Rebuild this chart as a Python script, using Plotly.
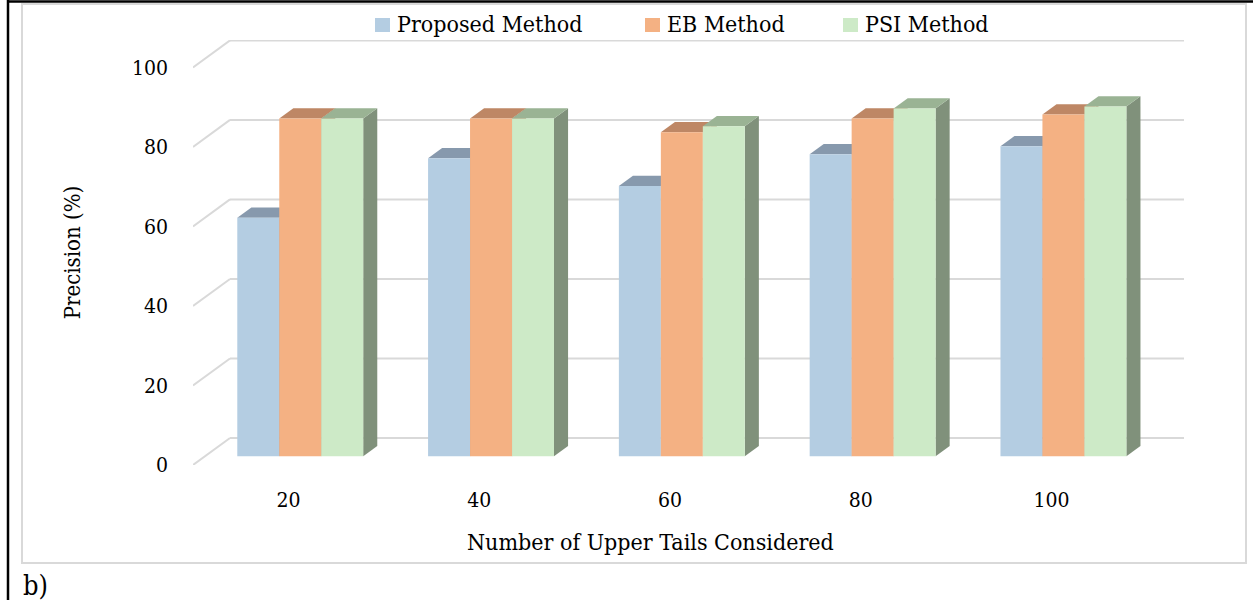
import plotly.graph_objects as go

# ---- data -------------------------------------------------------------
categories = ["20", "40", "60", "80", "100"]
series_names = ["Proposed Method", "EB Method", "PSI Method"]
proposed = [60, 75, 68, 76, 78]
eb = [85, 85, 81.5, 85, 86]
psi = [85, 85, 83, 87.5, 88]
y_ticks = [0, 20, 40, 60, 80, 100]

series_values = [proposed, eb, psi]
front_colors = ["#B4CDE2", "#F4B183", "#CDEAC7"]
top_colors = ["#8799AD", "#BE8765", "#9AB394"]
side_colors = ["#7D8E9F", "#B07A5A", "#80917B"]

FONT = "DejaVu Serif Condensed, DejaVu Serif, serif"

# ---- geometry of the pseudo-3D frame (data units) ---------------------
W_PX, H_PX = 1253, 600
L, R, T, B = 193, 69, 40, 135
PW, PH = W_PX - L - R, H_PX - T - B

DEPTH_X = 0.194          # back-wall shift in category units
DEPTH_Y = 6.8            # back-wall shift in value units
X_MAX = len(categories) - 0.5 + DEPTH_X
Y_MAX = 106.9

BAR_W = 0.22
FRONT = 0.32             # depth fraction of the bar front faces
THICK = 0.38             # depth fraction covered by each bar
fdx, fdy = FRONT * DEPTH_X, FRONT * DEPTH_Y
ddx, ddy = THICK * DEPTH_X, THICK * DEPTH_Y


def px_x(px):
    return (px - L) / PW


def px_y(py):
    return (H_PX - B - py) / PH


fig = go.Figure()
shapes = []

# back-wall gridlines with the receding floor/wall edge on the left
for v in y_ticks:
    shapes.append(dict(type="line", xref="x", yref="y",
                       x0=-0.5, y0=v, x1=-0.5 + DEPTH_X, y1=v + DEPTH_Y,
                       line=dict(color="#D9D9D9", width=2), layer="below"))
    shapes.append(dict(type="line", xref="x", yref="y",
                       x0=-0.5 + DEPTH_X, y0=v + DEPTH_Y, x1=X_MAX, y1=v + DEPTH_Y,
                       line=dict(color="#D9D9D9", width=2), layer="below"))

# bars (front faces) plus their top and side faces
for k, (name, vals) in enumerate(zip(series_names, series_values)):
    off = -1.5 * BAR_W + k * BAR_W
    xs = [i + fdx for i in range(len(categories))]
    fig.add_trace(go.Bar(
        x=xs, y=vals, base=fdy, width=BAR_W, offset=off, name=name,
        marker=dict(color=front_colors[k], line=dict(width=0)),
        showlegend=False,
        hovertemplate=name + "<br>%{customdata}: %{y}<extra></extra>",
        customdata=categories,
    ))
    for i, v in enumerate(vals):
        x0 = i + fdx + off
        x1 = x0 + BAR_W
        top = fdy + v
        shapes.append(dict(
            type="path", xref="x", yref="y", layer="below",
            path=f"M{x1},{fdy} L{x1},{top} L{x1 + ddx},{top + ddy} "
                 f"L{x1 + ddx},{fdy + ddy} Z",
            fillcolor=side_colors[k], line=dict(width=0)))
        shapes.append(dict(
            type="path", xref="x", yref="y", layer="below",
            path=f"M{x0},{top} L{x1},{top} L{x1 + ddx},{top + ddy} "
                 f"L{x0 + ddx},{top + ddy} Z",
            fillcolor=top_colors[k], line=dict(width=0)))

# chart area border and page borders
shapes.append(dict(type="rect", xref="paper", yref="paper",
                   x0=px_x(22), y0=px_y(563), x1=px_x(1246), y1=px_y(4),
                   line=dict(color="#D9D9D9", width=2), layer="below"))
shapes.append(dict(type="line", xref="paper", yref="paper",
                   x0=px_x(8), y0=px_y(0), x1=px_x(8), y1=px_y(600),
                   line=dict(color="#000000", width=2.5)))
shapes.append(dict(type="line", xref="paper", yref="paper",
                   x0=px_x(8), y0=px_y(1.5), x1=px_x(1253), y1=px_y(1.5),
                   line=dict(color="#000000", width=2.5)))

# legend: swatches and labels along the top
legend_swatch_x = [375, 645, 843]
annotations = []
for k, name in enumerate(series_names):
    sx = legend_swatch_x[k]
    shapes.append(dict(type="rect", xref="paper", yref="paper",
                       x0=px_x(sx), x1=px_x(sx + 15),
                       y0=px_y(32), y1=px_y(18),
                       fillcolor=front_colors[k], line=dict(width=0)))
    annotations.append(dict(xref="paper", yref="paper",
                            x=px_x(sx + 20), y=px_y(24),
                            xanchor="left", yanchor="middle",
                            text=name, showarrow=False,
                            font=dict(family=FONT, size=23, color="#000000")))

# horizontal axis title, centred under the category labels
annotations.append(dict(xref="paper", yref="paper", x=px_x(650), y=px_y(542),
                        xanchor="center", yanchor="middle",
                        text="Number of Upper Tails Considered", showarrow=False,
                        font=dict(family=FONT, size=23, color="#000000")))

annotations.append(dict(xref="paper", yref="paper", x=px_x(21), y=px_y(585),
                        xanchor="left", yanchor="middle", text="b)",
                        showarrow=False,
                        font=dict(family=FONT, size=27, color="#000000")))

fig.update_layout(
    width=W_PX, height=H_PX,
    margin=dict(l=L, r=R, t=T, b=B, autoexpand=False),
    paper_bgcolor="white", plot_bgcolor="white",
    barmode="overlay",
    shapes=shapes, annotations=annotations,
    showlegend=False,
    font=dict(family=FONT, size=21, color="#000000"),
)
fig.update_xaxes(
    range=[-0.5, X_MAX], tickmode="array",
    tickvals=list(range(len(categories))), ticktext=categories,
    showgrid=False, zeroline=False, showline=False, ticks="",
    ticklabelstandoff=20,
    tickfont=dict(family=FONT, size=21, color="#000000"),
    automargin=False, fixedrange=True,
)
fig.update_yaxes(
    range=[0, Y_MAX], tickmode="array", tickvals=y_ticks,
    ticktext=[str(v) for v in y_ticks],
    showgrid=False, zeroline=False, showline=False, ticks="",
    ticklabelstandoff=24,
    tickfont=dict(family=FONT, size=21, color="#000000"),
    title=dict(text="Precision (%)", standoff=45,
               font=dict(family=FONT, size=22, color="#000000")),
    automargin=False, fixedrange=True,
)

fig.write_html("out.html")
